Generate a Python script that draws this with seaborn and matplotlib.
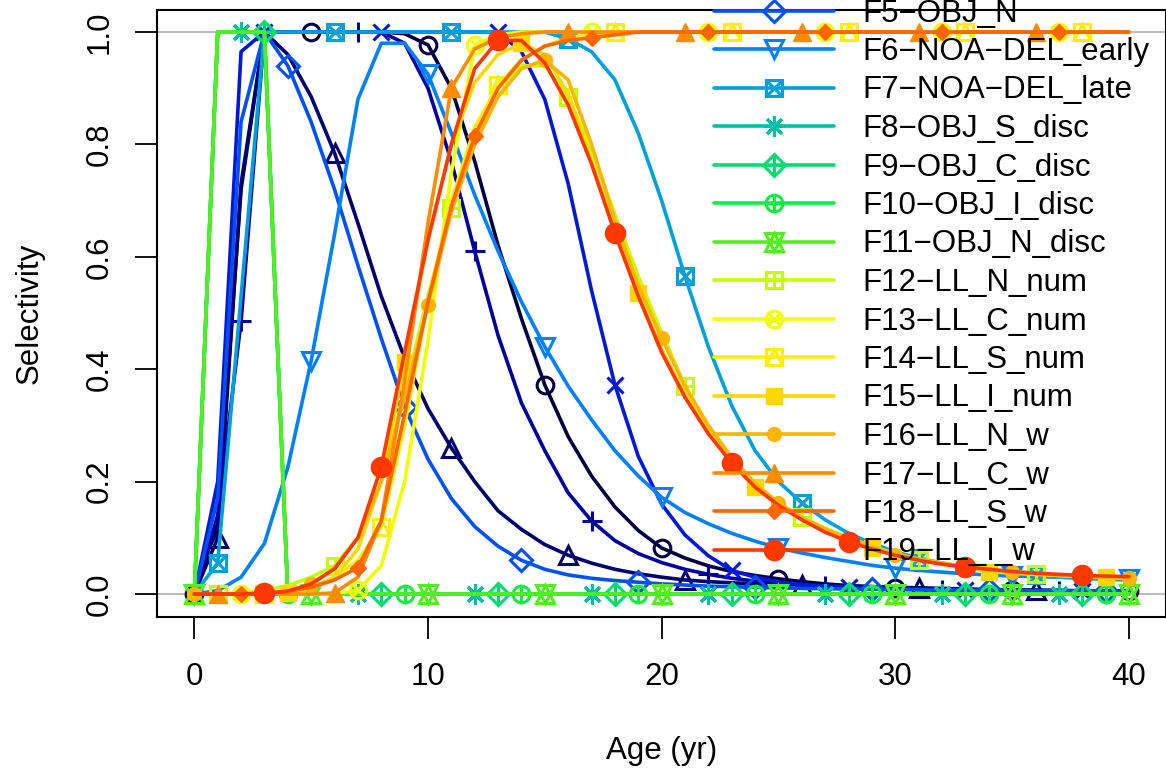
import numpy as np
import pandas as pd
import matplotlib
matplotlib.use('Agg')
import matplotlib.pyplot as plt
import seaborn as sns

# selectivity at age, one list per fleet
ages = list(range(41))

f1 = [0, 0.13, 0.72, 1, 1, 1, 1, 1, 1, 0.997, 0.977, 0.90, 0.77, 0.62, 0.49, 0.372, 0.28, 0.21, 0.155, 0.113,
      0.082, 0.064, 0.05, 0.04, 0.033, 0.027, 0.022, 0.018, 0.015, 0.013, 0.011, 0.01, 0.009, 0.008, 0.007,
      0.007, 0.006, 0.006, 0.005, 0.005, 0.005]
f2 = [0, 0.10, 0.73, 1, 0.96, 0.885, 0.785, 0.66, 0.53, 0.42, 0.33, 0.26, 0.20, 0.148, 0.115, 0.088, 0.069,
      0.055, 0.044, 0.036, 0.03, 0.025, 0.022, 0.02, 0.018, 0.017, 0.016, 0.015, 0.014, 0.013, 0.012, 0.011,
      0.01, 0.009, 0.008, 0.0075, 0.007, 0.0065, 0.006, 0.0055, 0.005]
f3 = [0, 0.14, 0.485, 1, 1, 1, 1, 1, 1, 0.98, 0.90, 0.77, 0.61, 0.46, 0.34, 0.255, 0.18, 0.13, 0.095, 0.072,
      0.056, 0.044, 0.035, 0.028, 0.023, 0.019, 0.016, 0.014, 0.012, 0.011, 0.01, 0.009, 0.008, 0.0075,
      0.007, 0.0065, 0.006, 0.0055, 0.005, 0.005, 0.0045]
f4 = [0, 0.20, 0.965, 1, 1, 1, 1, 1, 1, 1, 1, 1, 1, 1, 0.965, 0.88, 0.73, 0.54, 0.372, 0.245, 0.16, 0.105,
      0.068, 0.042, 0.03, 0.022, 0.017, 0.014, 0.012, 0.01, 0.009, 0.008, 0.0075, 0.007, 0.0065, 0.006,
      0.0055, 0.005, 0.0045, 0.0042, 0.004]
f5 = [0, 0.17, 0.84, 1, 0.94, 0.84, 0.72, 0.585, 0.455, 0.333, 0.24, 0.17, 0.12, 0.085, 0.06, 0.044, 0.034,
      0.028, 0.024, 0.021, 0.018, 0.016, 0.014, 0.013, 0.012, 0.011, 0.01, 0.0095, 0.009, 0.0085, 0.008,
      0.0075, 0.007, 0.0068, 0.0065, 0.0062, 0.006, 0.0058, 0.0055, 0.0053, 0.005]
f6 = [0, 0.006, 0.03, 0.09, 0.225, 0.415, 0.64, 0.88, 0.98, 0.98, 0.925, 0.82, 0.71, 0.61, 0.52, 0.44, 0.37,
      0.31, 0.255, 0.21, 0.172, 0.145, 0.125, 0.108, 0.094, 0.082, 0.073, 0.065, 0.058, 0.051, 0.046, 0.042,
      0.039, 0.036, 0.034, 0.032, 0.031, 0.03, 0.029, 0.028, 0.027]
f7 = [0, 0.055, 0.53, 1, 1, 1, 1, 1, 1, 1, 1, 1, 1, 1, 1, 1, 0.988, 0.965, 0.915, 0.82, 0.70, 0.565, 0.44,
      0.335, 0.255, 0.20, 0.162, 0.132, 0.108, 0.09, 0.075, 0.064, 0.055, 0.048, 0.042, 0.037, 0.033, 0.03,
      0.028, 0.026, 0.025]
f8 = [0, 1, 1, 1] + [0] * 37
f9 = [0, 1, 1, 1] + [0] * 37
f10 = [0, 1, 1, 1] + [0] * 37
f11 = [0, 1, 1, 1] + [0] * 37
f12 = [0, 0, 0.002, 0.006, 0.015, 0.03, 0.05, 0.10, 0.20, 0.36, 0.53, 0.687, 0.82, 0.90, 0.94, 0.94, 0.885,
       0.79, 0.675, 0.565, 0.465, 0.37, 0.295, 0.24, 0.195, 0.162, 0.137, 0.117, 0.10, 0.085, 0.072, 0.061,
       0.054, 0.048, 0.043, 0.039, 0.036, 0.033, 0.031, 0.029, 0.028]
f13 = [0, 0, 0, 0, 0, 0, 0.001, 0.007, 0.05, 0.20, 0.45, 0.75, 0.977, 0.995] + [1] * 27
f14 = [0, 0, 0, 0, 0.002, 0.01, 0.03, 0.06, 0.12, 0.30, 0.52, 0.70, 0.83, 0.905, 0.95, 0.975, 0.99, 0.995] + [1] * 23
f15 = [0, 0, 0, 0, 0.002, 0.01, 0.03, 0.08, 0.20, 0.413, 0.63, 0.80, 0.91, 0.96, 0.98, 0.96, 0.89, 0.77,
       0.65, 0.535, 0.435, 0.355, 0.288, 0.235, 0.19, 0.158, 0.133, 0.113, 0.096, 0.082, 0.071, 0.062,
       0.054, 0.047, 0.04, 0.037, 0.035, 0.033, 0.031, 0.03, 0.029]
f16 = [0, 0, 0, 0, 0.004, 0.018, 0.045, 0.10, 0.20, 0.35, 0.515, 0.68, 0.80, 0.885, 0.935, 0.95, 0.915, 0.80,
       0.665, 0.55, 0.455, 0.37, 0.30, 0.243, 0.197, 0.162, 0.136, 0.116, 0.099, 0.084, 0.07, 0.062, 0.055,
       0.049, 0.044, 0.04, 0.037, 0.034, 0.032, 0.03, 0.028]
f17 = [0, 0, 0, 0, 0, 0, 0.002, 0.03, 0.13, 0.38, 0.66, 0.90, 0.97, 0.99, 0.997] + [1] * 26
f18 = [0, 0, 0, 0.002, 0.005, 0.012, 0.025, 0.047, 0.13, 0.32, 0.52, 0.69, 0.815, 0.90, 0.95, 0.975, 0.985,
       0.99, 0.995] + [1] * 22
f19 = [0, 0, 0, 0.001, 0.005, 0.018, 0.045, 0.10, 0.226, 0.43, 0.63, 0.80, 0.935, 0.985, 0.985, 0.945, 0.87,
       0.765, 0.642, 0.53, 0.43, 0.35, 0.285, 0.233, 0.19, 0.158, 0.132, 0.11, 0.093, 0.08, 0.069, 0.06,
       0.053, 0.048, 0.044, 0.04, 0.037, 0.035, 0.033, 0.032, 0.031]

fleets = ['F1\u2212?', 'F2\u2212?', 'F3\u2212?', 'F4\u2212?', 'F5\u2212OBJ_N', 'F6\u2212NOA\u2212DEL_early',
          'F7\u2212NOA\u2212DEL_late', 'F8\u2212OBJ_S_disc', 'F9\u2212OBJ_C_disc', 'F10\u2212OBJ_I_disc',
          'F11\u2212OBJ_N_disc', 'F12\u2212LL_N_num', 'F13\u2212LL_C_num', 'F14\u2212LL_S_num',
          'F15\u2212LL_I_num', 'F16\u2212LL_N_w', 'F17\u2212LL_C_w', 'F18\u2212LL_S_w', 'F19\u2212LL_I_w']
sel = [f1, f2, f3, f4, f5, f6, f7, f8, f9, f10, f11, f12, f13, f14, f15, f16, f17, f18, f19]

colors = ['#000040', '#00006E', '#00009E', '#0018D8', '#0050F5', '#0080FF', '#00A0DC', '#00C0A8',
          '#00DC6E', '#10EE40', '#50F020', '#C4FF00', '#F2FF00', '#FFEE00', '#FFD600', '#FFB400',
          '#FF8C00', '#FF6600', '#FF3800']

# R pch 1..19: (marker, filled, overlay marker, size, overlay size)
pch = [('o', False, None, 12, 0), ('^', False, None, 13, 0), ('+', False, None, 15, 0),
       ('x', False, None, 12, 0), ('D', False, None, 11, 0), ('v', False, None, 13, 0),
       ('s', False, 'x', 12, 12), ((8, 2, 0), False, None, 15, 0), ('D', False, '+', 11, 15),
       ('o', False, '+', 12, 12), ('^', False, 'v', 13, 13), ('s', False, '+', 12, 12),
       ('o', False, 'x', 12, 8.5), ('s', False, '^', 12, 12), ('s', True, None, 11, 0),
       ('o', True, None, 10, 0), ('^', True, None, 12.5, 0), ('D', True, None, 8, 0),
       ('o', True, None, 14.5, 0)]

sns.set_style('ticks')
plt.rcParams['font.family'] = ['Liberation Sans', 'DejaVu Sans']
plt.rcParams['text.color'] = 'black'
plt.rcParams['axes.labelcolor'] = 'black'
plt.rcParams['xtick.color'] = 'black'
plt.rcParams['ytick.color'] = 'black'
FS = 22.5

fig = plt.figure(figsize=(11.66, 7.69), dpi=100)
ax = fig.add_axes([0.1346, 0.1983, 0.8657, 0.7893])

ax.axhline(0, color='#bebebe', lw=1.5, zorder=1)
ax.axhline(1, color='#bebebe', lw=1.5, zorder=1)

handles = []
for i, (vals, col, p) in enumerate(zip(sel, colors, pch)):
    m, filled, m2, ms, ms2 = p
    z = 2 + i * 0.01
    sns.lineplot(x=ages, y=vals, color=col, lw=2.6, marker=m, markersize=ms,
                 markevery=(i % 5, 5), markerfacecolor=col if filled else 'none',
                 markeredgecolor=col, markeredgewidth=1.0 if filled else 2.2,
                 errorbar=None, legend=False, ax=ax, zorder=z)
    h = ax.lines[-1]
    if m2 is not None:
        h2, = ax.plot(ages, vals, ls='none', marker=m2, markersize=ms2, markevery=(i % 5, 5),
                      markerfacecolor='none', markeredgecolor=col, markeredgewidth=2.2, zorder=z + 0.005)
        handles.append((h, h2))
    else:
        handles.append(h)

ax.set_xlim(-1.6, 41.6)
ax.set_ylim(-0.04, 1.04)
ax.set_xticks([0, 10, 20, 30, 40])
ax.set_yticks([0, 0.2, 0.4, 0.6, 0.8, 1.0])
ax.set_yticklabels(['0.0', '0.2', '0.4', '0.6', '0.8', '1.0'], rotation=90, va='center')
ax.tick_params(axis='both', length=16, width=1.3, color='black', labelcolor='black', labelsize=FS)
ax.tick_params(axis='x', pad=17)
ax.tick_params(axis='y', pad=14.5)
for s in ax.spines.values():
    s.set_visible(True)
    s.set_linewidth(1.5)
    s.set_color('black')

ax.set_xlabel('Age (yr)', fontsize=FS)
ax.set_ylabel('Selectivity', fontsize=FS)
ax.xaxis.set_label_coords(0.5, -0.2216)
ax.xaxis.label.set_va('center')
ax.yaxis.set_label_coords(-0.1258, 0.5)
ax.yaxis.label.set_va('center')

# legend runs off the top of the figure, like the original
leg = ax.legend(handles, fleets, loc='upper left', bbox_to_anchor=(714 / 1166, 1 + 155.5 / 769),
                bbox_transform=fig.transFigure, frameon=False, fontsize=FS, handlelength=3.85,
                handletextpad=0.9, borderpad=0, borderaxespad=0, labelspacing=0.272, numpoints=1)
leg.set_zorder(5)

fig.savefig('out.png', dpi=100)
